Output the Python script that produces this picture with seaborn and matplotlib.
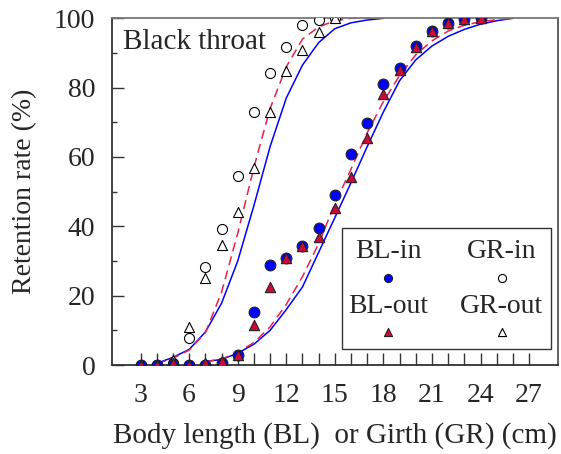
import matplotlib
matplotlib.use("Agg")
import matplotlib.pyplot as plt
from matplotlib.patches import Rectangle
from matplotlib.ticker import MultipleLocator, FixedLocator
import pandas as pd
import seaborn as sns

# Observed retention rates (%) by size class
bl_x = [3, 4, 5, 6, 7, 8, 9, 10, 11, 12, 13, 14, 15, 16, 17, 18, 19, 20, 21, 22, 23, 24]
bl_in = [0, 0, 0, 0, 0, 0.5, 3.0, 15.4, 28.8, 31.0, 34.3, 39.6, 49.1, 60.9, 69.9, 81.0, 85.8, 92.0, 96.4, 98.5, 99.7, 100]
bl_out = [0, 0, 0.5, 0, 0.5, 1.2, 3.0, 11.5, 22.4, 31.0, 34.3, 36.8, 45.4, 54.3, 65.4, 78.1, 85.1, 91.6, 96.4, 98.7, 99.7, 100]

gr_x = [4, 5, 6, 7, 8, 9, 10, 11, 12, 13, 14, 15]
gr_in = [0, 0.5, 7.7, 28.2, 39.2, 54.6, 73.1, 84.3, 91.8, 98.1, 99.5, 100]
gr_out = [0, 1.5, 10.9, 25.2, 34.6, 44.0, 56.7, 73.1, 84.9, 90.9, 96.0, 100]

# Fitted selection curves
gr_fit_x = [4, 5, 6, 7, 8, 9, 10, 11, 12, 13, 14, 15, 16, 17, 18]
gr_fit_in = [0.5, 2.2, 4.5, 9.5, 17.8, 30.0, 46.0, 63.0, 77.0, 86.5, 93.0, 97.0, 98.7, 99.5, 100]
gr_fit_out = [0.3, 2.0, 4.3, 9.3, 21.0, 38.0, 57.0, 74.0, 86.0, 94.0, 97.5, 99.3, 100, 100, 100]

bl_fit_x = [7, 8, 9, 10, 11, 12, 13, 14, 15, 16, 17, 18, 19, 20, 21, 22, 23, 24, 25, 26]
bl_fit_in = [1.0, 1.6, 3.4, 6.0, 10.0, 16.0, 22.5, 32.5, 42.5, 52.6, 63.0, 73.0, 82.0, 88.0, 92.0, 94.8, 96.8, 98.3, 99.3, 100]
bl_fit_out = [1.0, 1.7, 3.6, 6.5, 11.0, 17.5, 25.5, 35.0, 46.5, 56.5, 67.0, 76.0, 83.5, 89.5, 93.5, 96.3, 98.0, 99.0, 99.6, 100]

BLUE = "#0000ff"
RED = "#cc0a35"
DASH_RED = "#e8204f"

sns.set_style("ticks")
plt.rcParams["font.family"] = ["Liberation Serif", "DejaVu Serif"]

pts = pd.DataFrame({"x": bl_x, "in": bl_in, "out": bl_out})
gpts = pd.DataFrame({"x": gr_x, "in": gr_in, "out": gr_out})
gfit = pd.DataFrame({"x": gr_fit_x, "in": gr_fit_in, "out": gr_fit_out})
bfit = pd.DataFrame({"x": bl_fit_x, "in": bl_fit_in, "out": bl_fit_out})

fig = plt.figure(figsize=(5.61, 4.54), dpi=100)
ax = fig.add_axes([0.1996, 0.196, 0.7951, 0.7637])

# fitted curves
for fit in (gfit, bfit):
    sns.lineplot(data=fit, x="x", y="in", ax=ax, color=BLUE, lw=1.1, zorder=2)
    sns.lineplot(data=fit, x="x", y="out", ax=ax, color=DASH_RED, lw=1.1,
                 dashes=False, linestyle=(0, (6, 3.5)), zorder=2)

# observations
sns.scatterplot(data=gpts, x="x", y="in", ax=ax, marker="o", s=52, color="white",
                edgecolor="black", linewidth=0.8, zorder=3)
sns.scatterplot(data=gpts, x="x", y="out", ax=ax, marker="^", s=52, color="white",
                edgecolor="black", linewidth=0.8, zorder=3)
sns.scatterplot(data=pts, x="x", y="in", ax=ax, marker="o", s=60, color=BLUE,
                edgecolor="#222222", linewidth=0.8, zorder=4)
sns.scatterplot(data=pts, x="x", y="out", ax=ax, marker="^", s=55, color=RED,
                edgecolor="#222222", linewidth=0.8, zorder=5)

ax.set_xlim(1.23, 28.79)
ax.set_ylim(0, 100)
ax.xaxis.set_major_locator(FixedLocator([3, 6, 9, 12, 15, 18, 21, 24, 27]))
ax.xaxis.set_minor_locator(FixedLocator(list(range(3, 28))))
ax.yaxis.set_major_locator(MultipleLocator(20))
ax.yaxis.set_minor_locator(MultipleLocator(10))
ax.tick_params(axis="x", which="both", direction="in", length=8.4, width=1.0,
               color="#333333", labelsize=20, pad=13, top=False)
ax.tick_params(axis="y", which="major", direction="in", length=8.4, width=1.0,
               color="#333333", labelsize=20, pad=12, right=False)
ax.tick_params(axis="y", which="minor", direction="in", length=3.6, width=1.0,
               color="#333333", right=False)
for sp in ax.spines.values():
    sp.set_visible(True)
    sp.set_linewidth(1.3)
    sp.set_color("#333333")
ax.spines["top"].set_color("#777777")
ax.spines["right"].set_color("#555555")

ax.set_xlabel("Body length (BL)  or Girth (GR) (cm)", fontsize=21, labelpad=10)
ax.set_ylabel("Retention rate (%)", fontsize=20, labelpad=12)

ax.text(0.024, 0.911, "Black throat", transform=ax.transAxes, fontsize=21,
        ha="left", va="baseline")

# legend panel: label above its marker
ax.add_patch(Rectangle((0.515, 0.046), 0.469, 0.35, transform=ax.transAxes,
                       fill=False, edgecolor="#333333", lw=1.0, zorder=6))
entries = [
    ("BL-in", 0.6195, 0.3268, 0.2518, "o", BLUE, "#222222"),
    ("BL-out", 0.6195, 0.1702, 0.0960, "^", RED, "#222222"),
    ("GR-in", 0.8738, 0.3268, 0.2518, "o", "white", "black"),
    ("GR-out", 0.8738, 0.1702, 0.0960, "^", "white", "black"),
]
for name, lx, ty, my, mk, fc, ec in entries:
    ax.text(lx, ty, name, transform=ax.transAxes, fontsize=20, ha="center", va="center", zorder=7)
    ax.scatter([lx], [my], transform=ax.transAxes, marker=mk, s=34, color=fc,
               edgecolor=ec, linewidth=0.8, zorder=7, clip_on=False)

if ax.get_legend() is not None:
    ax.get_legend().remove()

fig.savefig("out.png", dpi=100)
